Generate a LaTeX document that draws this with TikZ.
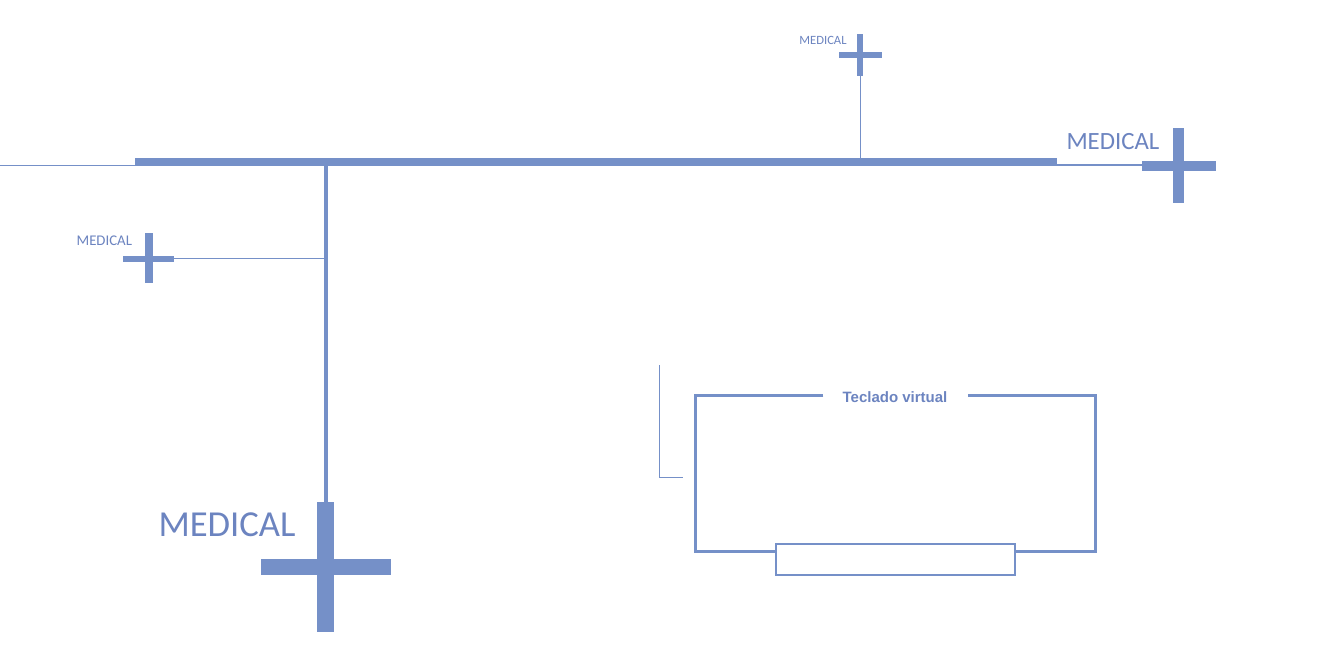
\documentclass[tikz,border=0pt]{standalone}
\usepackage{fontspec}
\setmainfont{Carlito}
\newfontfamily\arialfont{Liberation Sans}
\definecolor{med}{RGB}{117,144,200}
\definecolor{medtext}{RGB}{108,132,192}
\begin{document}
\begin{tikzpicture}[x=1pt,y=-1pt,
  thinline/.style={draw=med,line width=1.5pt},
  medlabel/.style={text=medtext,inner sep=0pt,anchor=base west},
  crossfill/.style={fill=med},
  boxline/.style={draw=med,line width=3pt},
]
\useasboundingbox[fill=white] (0,0) rectangle (1341,663);
% named points
\coordinate (leftend) at (0,165.3);
\coordinate (barleft) at (135,165.3);
\coordinate (barright) at (1056.5,165.2);
\coordinate (rcross) at (1142,165.2);
\coordinate (topjoin) at (860.3,158.5);
\coordinate (topcross) at (860.3,76);
\coordinate (vtop) at (325.5,166);
\coordinate (vjoin) at (325.5,258.3);
\coordinate (vbottom) at (325.5,502);
\coordinate (lcross) at (174.3,258.3);
% main bar
\fill[med] (135,158.5) rectangle (1056.5,166);
\draw[thinline] (leftend) -- (barleft);
\draw[thinline] (barright) -- (rcross);
\draw[thinline] (topjoin) -- (topcross);
\draw[draw=med,line width=4pt] (vtop) -- (vbottom);
\draw[thinline] (vjoin) -- (lcross);
% right cross
\fill[crossfill] (1141.7,160.7) rectangle (1215.7,171);
\fill[crossfill] (1173.3,128.3) rectangle (1184,202.7);
% top cross
\fill[crossfill] (839.3,52.3) rectangle (881.7,57.7);
\fill[crossfill] (857.3,34) rectangle (863.3,76);
% left cross
\fill[crossfill] (123.3,255.7) rectangle (174.3,262.3);
\fill[crossfill] (145,233.3) rectangle (152.7,283.3);
% bottom cross
\fill[crossfill] (260.7,559) rectangle (390.7,575.3);
\fill[crossfill] (316.7,501.7) rectangle (334.3,631.7);
% labels
\node[medlabel,font=\fontsize{36.6}{40}\selectfont] (lblbottom) at (158.3,536.7) {MEDICAL};
\node[medlabel,font=\fontsize{24.8}{28}\selectfont] (lblright) at (1066.3,149.3) {MEDICAL};
\node[medlabel,font=\fontsize{12.6}{15}\selectfont] (lbltop) at (799.2,45) {MEDICAL};
\node[medlabel,font=\fontsize{14.8}{17}\selectfont] (lblleft) at (76.4,245) {MEDICAL};
% keyboard box
\draw[boxline] (823.3,395.7) -- (695.3,395.7) -- (695.3,551) -- (1095,551) -- (1095,395.7) -- (967.7,395.7);
\node[text=medtext,inner sep=0pt,anchor=base,font=\arialfont\bfseries\fontsize{15}{18}\selectfont] (teclado) at (895,402.7) {Teclado virtual};
\draw[draw=med,line width=2pt,fill=white] (775.7,544) rectangle (1015,575);
\draw[draw=med,line width=1pt] (659.3,365) -- (659.3,477.3) -- (683.3,477.3);
\end{tikzpicture}
\end{document}
